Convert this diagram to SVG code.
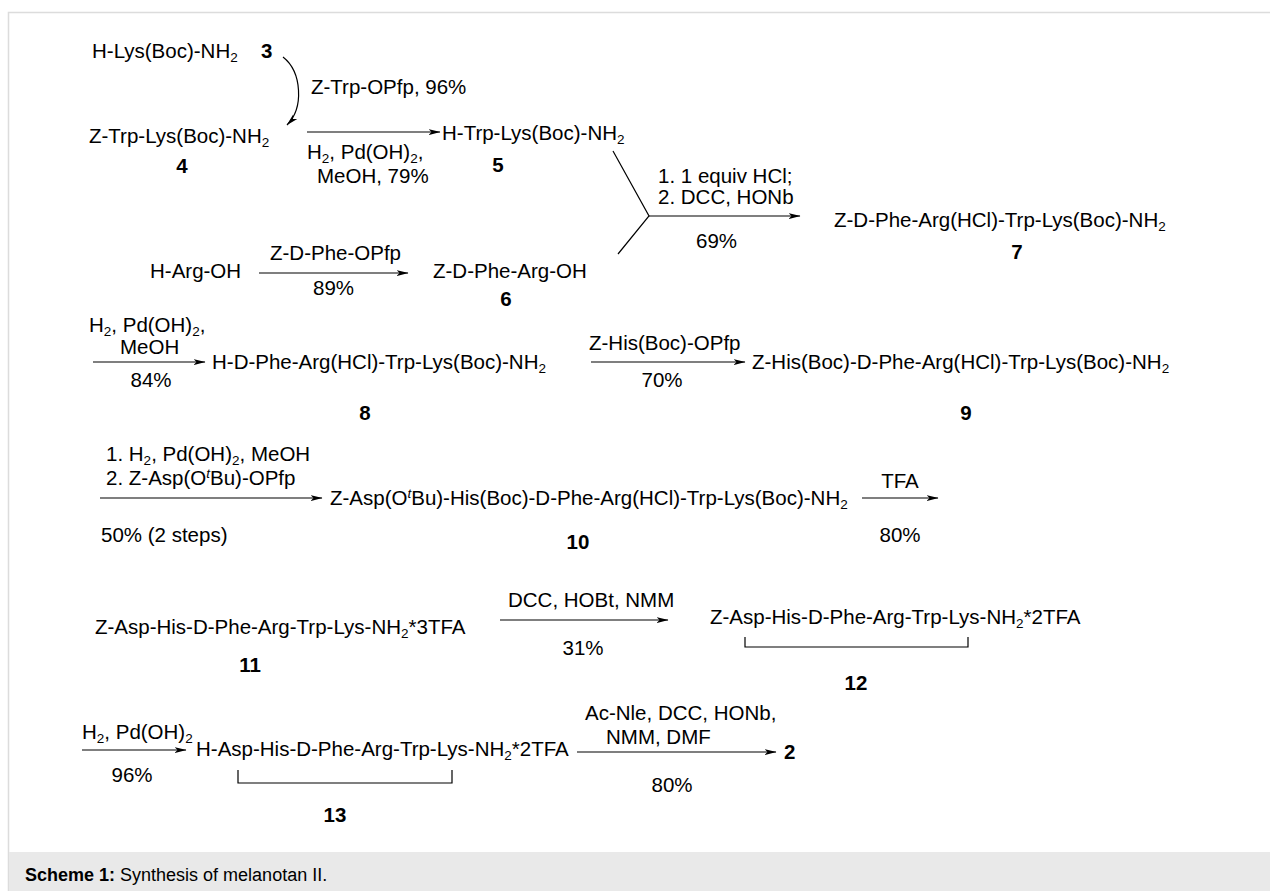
<svg xmlns="http://www.w3.org/2000/svg" width="1270" height="891" viewBox="0 0 1270 891">
<defs>
<marker id="ah" viewBox="0 0 12 8" refX="11.5" refY="4" markerWidth="12" markerHeight="8" markerUnits="userSpaceOnUse" orient="auto"><path d="M0,1 L12,4 L0,7 L3,4 Z" fill="#000"/></marker>
</defs>
<style>
text{font-family:"Liberation Sans",Arial,Helvetica,sans-serif;font-size:20.5px;fill:#000}
.b{font-weight:bold}
.m{text-anchor:middle}
.s{font-size:13.5px}
.ln{stroke:#000;stroke-width:1.2;fill:none}
.ar{marker-end:url(#ah)}
.cap{font-size:18px}
.frame{stroke:#dcdcdc;stroke-width:1.5;fill:none}
</style>
<rect width="1270" height="891" fill="#fff"/>
<g id="frame">
<path class="frame" d="M8.5,891 V12.5 H1270"/>
<rect x="9" y="852" width="1261" height="39" fill="#e9e9e9"/>
<text class="cap" x="25" y="881"><tspan font-weight="bold">Scheme 1:</tspan> Synthesis of melanotan II.</text>
</g>
<g id="connectors">
<path class="ln ar" d="M283,57 C302,72 304,108 287,125"/>
<line class="ln ar" x1="307" y1="132" x2="440" y2="132"/>
<path class="ln" d="M613,151 L649,216 L618,254"/>
<line class="ln ar" x1="649" y1="216" x2="800" y2="216"/>
<line class="ln ar" x1="259" y1="273" x2="408" y2="273"/>
<line class="ln ar" x1="93" y1="362" x2="205" y2="362"/>
<line class="ln ar" x1="591" y1="362" x2="745" y2="362"/>
<line class="ln ar" x1="100" y1="498" x2="322" y2="498"/>
<line class="ln ar" x1="862" y1="498" x2="938" y2="498"/>
<line class="ln ar" x1="500" y1="620" x2="668" y2="620"/>
<line class="ln ar" x1="82" y1="750" x2="186" y2="750"/>
<line class="ln ar" x1="577" y1="752" x2="776" y2="752"/>
<path class="ln" d="M745,637 V647 H968 V637"/>
<path class="ln" d="M238,770 V783 H452 V770"/>
</g>
<g id="labels">
<text x="311" y="94">Z-Trp-OPfp, 96%</text>
<text x="307" y="159">H<tspan class="s" dy="4">2</tspan><tspan dy="-4">, Pd(OH)</tspan><tspan class="s" dy="4">2</tspan><tspan dy="-4">,</tspan></text>
<text x="317" y="183">MeOH, 79%</text>
<text x="658" y="183">1. 1 equiv HCl;</text>
<text x="658" y="204">2. DCC, HONb</text>
<text x="696" y="248">69%</text>
<text x="270" y="260">Z-D-Phe-OPfp</text>
<text x="313" y="295">89%</text>
<text x="89" y="332">H<tspan class="s" dy="4">2</tspan><tspan dy="-4">, Pd(OH)</tspan><tspan class="s" dy="4">2</tspan><tspan dy="-4">,</tspan></text>
<text x="120" y="354">MeOH</text>
<text class="m" x="151" y="387">84%</text>
<text x="589" y="350">Z-His(Boc)-OPfp</text>
<text class="m" x="662" y="387">70%</text>
<text x="106" y="461">1. H<tspan class="s" dy="4">2</tspan><tspan dy="-4">, Pd(OH)</tspan><tspan class="s" dy="4">2</tspan><tspan dy="-4">, MeOH</tspan></text>
<text x="106" y="485">2. Z-Asp(O<tspan class="s" font-style="italic" dy="-7">t</tspan><tspan dy="7">Bu)-OPfp</tspan></text>
<text x="101" y="542">50% (2 steps)</text>
<text class="m" x="900" y="488">TFA</text>
<text class="m" x="900" y="542">80%</text>
<text x="508" y="607">DCC, HOBt, NMM</text>
<text class="m" x="583" y="655">31%</text>
<text x="82" y="739">H<tspan class="s" dy="4">2</tspan><tspan dy="-4">, Pd(OH)</tspan><tspan class="s" dy="4">2</tspan></text>
<text class="m" x="132" y="782">96%</text>
<text x="585" y="720">Ac-Nle, DCC, HONb,</text>
<text x="606" y="744">NMM, DMF</text>
<text class="m" x="672" y="792">80%</text>
</g>
<g id="n3"><text x="92" y="58">H-Lys(Boc)-NH<tspan class="s" dy="4">2</tspan></text><text class="b" x="261" y="58">3</text></g>
<g id="n4"><text x="89" y="143">Z-Trp-Lys(Boc)-NH<tspan class="s" dy="4">2</tspan></text><text class="b m" x="182" y="173">4</text></g>
<g id="n5"><text x="442" y="140">H-Trp-Lys(Boc)-NH<tspan class="s" dy="4">2</tspan></text><text class="b m" x="498" y="172">5</text></g>
<g id="nArg"><text x="150" y="278">H-Arg-OH</text></g>
<g id="n6"><text x="433" y="278">Z-D-Phe-Arg-OH</text><text class="b m" x="506" y="306">6</text></g>
<g id="n7"><text x="834" y="227">Z-D-Phe-Arg(HCl)-Trp-Lys(Boc)-NH<tspan class="s" dy="4">2</tspan></text><text class="b m" x="1017" y="259">7</text></g>
<g id="n8"><text x="212" y="369">H-D-Phe-Arg(HCl)-Trp-Lys(Boc)-NH<tspan class="s" dy="4">2</tspan></text><text class="b m" x="365" y="420">8</text></g>
<g id="n9"><text x="752" y="369">Z-His(Boc)-D-Phe-Arg(HCl)-Trp-Lys(Boc)-NH<tspan class="s" dy="4">2</tspan></text><text class="b m" x="966" y="420">9</text></g>
<g id="n10"><text x="330" y="505">Z-Asp(O<tspan class="s" font-style="italic" dy="-7">t</tspan><tspan dy="7">Bu)-His(Boc)-D-Phe-Arg(HCl)-Trp-Lys(Boc)-NH</tspan><tspan class="s" dy="4">2</tspan></text><text class="b m" x="578" y="549">10</text></g>
<g id="n11"><text x="95" y="634">Z-Asp-His-D-Phe-Arg-Trp-Lys-NH<tspan class="s" dy="4">2</tspan><tspan dy="-4">*3TFA</tspan></text><text class="b m" x="250" y="672">11</text></g>
<g id="n12"><text x="710" y="624">Z-Asp-His-D-Phe-Arg-Trp-Lys-NH<tspan class="s" dy="4">2</tspan><tspan dy="-4">*2TFA</tspan></text><text class="b m" x="856" y="690">12</text></g>
<g id="n13"><text x="196" y="756">H-Asp-His-D-Phe-Arg-Trp-Lys-NH<tspan class="s" dy="4">2</tspan><tspan dy="-4">*2TFA</tspan></text><text class="b m" x="335" y="822">13</text></g>
<g id="n2"><text class="b" x="784" y="759">2</text></g>
</svg>
